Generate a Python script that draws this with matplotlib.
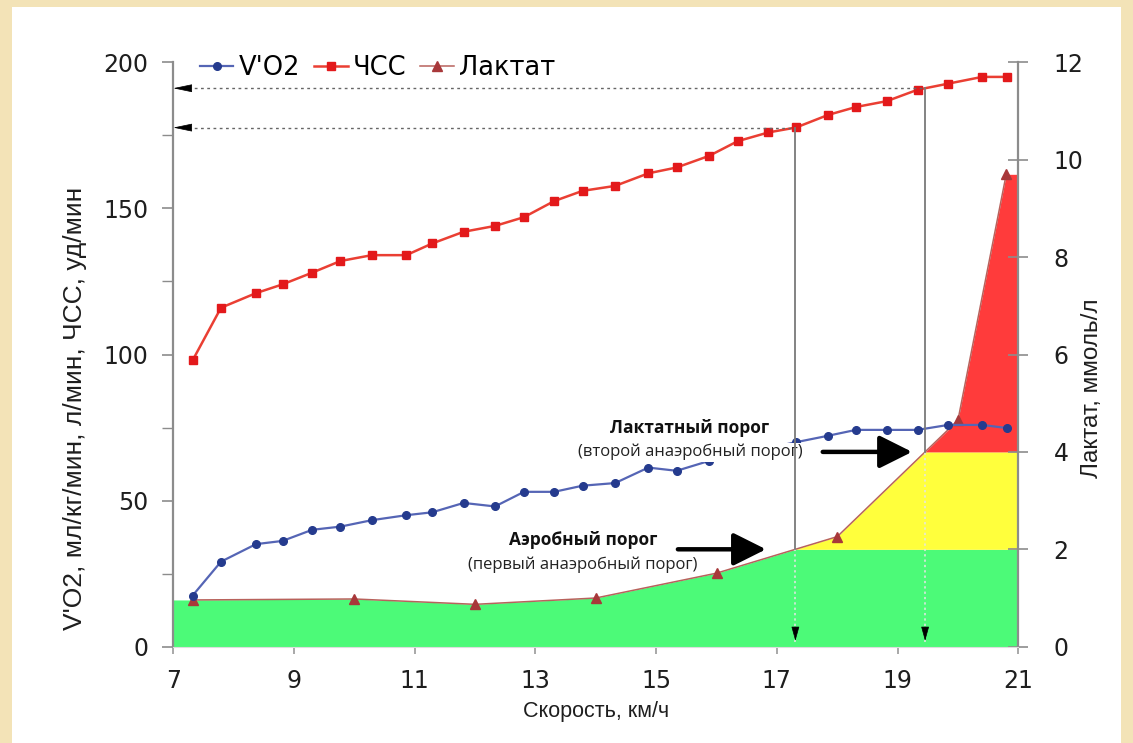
import numpy as np
import matplotlib
matplotlib.use("Agg")
import matplotlib.pyplot as plt
from matplotlib.patches import Rectangle
from matplotlib.ticker import MultipleLocator


# скорость, км/ч и ЧСС, уд/мин
hr_speed = [7.32, 7.79, 8.37, 8.81, 9.30, 9.77, 10.29, 10.86, 11.29, 11.81,
            12.33, 12.81, 13.31, 13.78, 14.32, 14.87, 15.34, 15.88, 16.35, 16.86,
            17.32, 17.85, 18.31, 18.82, 19.33, 19.84, 20.40, 20.82]
hr = [98, 116, 121, 124, 128, 132, 134, 134, 138, 142,
      144, 147, 152.5, 156, 157.7, 162, 164, 168, 173, 176,
      177.7, 182, 184.7, 186.7, 190.6, 192.7, 195, 195]

# V'O2, мл/кг/мин
vo2 = [17.5, 29.1, 35.1, 36.2, 40.0, 41.1, 43.3, 45.0, 46.0, 49.2,
       48.0, 53.0, 53.0, 55.1, 56.0, 61.3, 60.2, 63.6, 66.0, 68.0,
       70.0, 72.2, 74.2, 74.2, 74.2, 75.9, 75.9, 74.8]

# лактат, ммоль/л
lac_speed = [7.32, 10.0, 12.0, 14.0, 16.0, 18.0, 20.0, 20.8]
lactate = [0.96, 0.98, 0.87, 1.0, 1.51, 2.26, 4.65, 9.7]

LAC_AEROBIC = 2.0
LAC_ANAEROBIC = 4.0

# стрелки-указатели порогов (начало и конец по скорости)
arrow_aerobic = (15.36, 16.82)
arrow_anaerobic = (17.76, 19.24)

X_MIN, X_MAX = 7, 21
LEFT_MAX, RIGHT_MAX = 200, 12

W, H = 1133, 743


def crossing(xs, ys, level):
    # первая скорость, на которой лактат достигает уровня
    for i in range(1, len(xs)):
        if ys[i - 1] < level <= ys[i]:
            return xs[i - 1] + (level - ys[i - 1]) * (xs[i] - xs[i - 1]) / (ys[i] - ys[i - 1])
    return None


plt.rcParams['font.family'] = ['DejaVu Sans']
label_font = ['Liberation Sans', 'DejaVu Sans']
ann_font = ['Open Sans', 'DejaVu Sans']

fig = plt.figure(figsize=(W / 100, H / 100), dpi=100)
fig.patch.set_facecolor('#f3e3b7')
fig.add_artist(Rectangle((12 / W, 0), (1121 - 12) / W, (H - 7) / H,
                         transform=fig.transFigure, facecolor='white',
                         edgecolor='none', zorder=0))

ax = fig.add_axes([173.3 / W, 1 - 646.7 / H, (1018.3 - 173.3) / W, (646.7 - 62.3) / H])
ax2 = ax.twinx()
ax.set_zorder(ax2.get_zorder() + 1)
ax.patch.set_visible(False)

# зоны интенсивности под кривой лактата
xf = [X_MIN] + lac_speed + [X_MAX]
lf = [lactate[0]] + lactate + [lactate[-1]]
xx = np.linspace(X_MIN, X_MAX, 3000)
ll = np.interp(xx, xf, lf)
ax2.fill_between(xx, 0, np.minimum(ll, LAC_AEROBIC), color='#4cfa78', lw=0, zorder=1)
ax2.fill_between(xx, LAC_AEROBIC, np.clip(ll, LAC_AEROBIC, LAC_ANAEROBIC),
                 where=ll > LAC_AEROBIC, color='#ffff3c', lw=0, zorder=1)
ax2.fill_between(xx, LAC_ANAEROBIC, np.maximum(ll, LAC_ANAEROBIC),
                 where=ll > LAC_ANAEROBIC, color='#ff3b3b', lw=0, zorder=1)
lac_line, = ax2.plot(lac_speed, lactate, color='#b8625c', lw=1.1, marker='^',
                     ms=7, mfc='#a8383a', mec='#a8383a', zorder=3, label='Лактат')

vo2_line, = ax.plot(hr_speed, vo2, color='#5565b5', lw=1.6, marker='o', ms=5.5,
                    mfc='#253b8e', mec='#253b8e', zorder=4, label="V'O2")
hr_line, = ax.plot(hr_speed, hr, color='#ea3f33', lw=1.8, marker='s', ms=6,
                   mfc='#e3191b', mec='#e3191b', zorder=4, label='ЧСС')

# пороги: проекции на ось скорости и на ось ЧСС
for level, arr in ((LAC_AEROBIC, arrow_aerobic), (LAC_ANAEROBIC, arrow_anaerobic)):
    sp = crossing(lac_speed, lactate, level)
    hr_thr = np.interp(sp, hr_speed, hr)
    y_lac = level * LEFT_MAX / RIGHT_MAX
    ax.plot([sp, sp], [y_lac, hr_thr], color='#7a7a7a', lw=1.3, zorder=9)
    ax.plot([sp, sp], [1.5, y_lac], color='#e6e6e6', lw=1.1, ls=(0, (1.5, 2)), zorder=5)
    ax.plot([X_MIN + 0.25, sp], [hr_thr, hr_thr], color='#666666', lw=1.0,
            ls=(0, (2, 2.5)), zorder=5)
    ax.annotate('', xy=(X_MIN, hr_thr), xytext=(X_MIN + 0.28, hr_thr),
                arrowprops=dict(arrowstyle='-|>,head_length=1.2,head_width=0.25',
                                color='black', lw=0.5, shrinkA=0, shrinkB=0),
                zorder=6, annotation_clip=False)
    ax.annotate('', xy=(sp, 2), xytext=(sp, 6.5),
                arrowprops=dict(arrowstyle='-|>,head_length=0.9,head_width=0.25',
                                color='black', lw=0.5, shrinkA=0, shrinkB=0),
                zorder=6)
    ax.annotate('', xy=(arr[1], y_lac), xytext=(arr[0], y_lac),
                arrowprops=dict(arrowstyle='-|>,head_length=1.0,head_width=0.5',
                                mutation_scale=20, color='black', lw=3.2,
                                shrinkA=0, shrinkB=0),
                zorder=7)

ax.text(15.56, 74.9, 'Лактатный порог', family=ann_font, fontsize=12.5,
        fontweight='bold', ha='center', va='center', color='#111111', zorder=8)
ax.text(15.56, 66.6, '(второй анаэробный порог)', family=ann_font, fontsize=12,
        ha='center', va='center', color='#222222', zorder=8,
        bbox=dict(facecolor='white', edgecolor='none', pad=1))
ax.text(13.79, 36.5, 'Аэробный порог', family=ann_font, fontsize=12.5,
        fontweight='bold', ha='center', va='center', color='#111111', zorder=8)
ax.text(13.79, 28.0, '(первый анаэробный порог)', family=ann_font, fontsize=12,
        ha='center', va='center', color='#222222', zorder=8)

# оси
ax.set_xlim(X_MIN, X_MAX)
ax.set_ylim(0, LEFT_MAX)
ax2.set_ylim(0, RIGHT_MAX)
ax.set_xticks(range(X_MIN, X_MAX + 1, 2))
ax.yaxis.set_major_locator(MultipleLocator(50))
ax.yaxis.set_minor_locator(MultipleLocator(25))
ax2.yaxis.set_major_locator(MultipleLocator(2))

for a in (ax, ax2):
    for s in a.spines.values():
        s.set_visible(False)
ax.spines['left'].set_visible(True)
ax.spines['left'].set_color('#8c8c8c')
ax.spines['left'].set_linewidth(1.6)
ax2.spines['right'].set_visible(True)
ax2.spines['right'].set_color('#8c8c8c')
ax2.spines['right'].set_linewidth(1.6)
ax.spines['bottom'].set_visible(True)
ax.spines['bottom'].set_color('#dddddd')
ax.spines['bottom'].set_linewidth(0.8)

ax.tick_params(axis='x', length=5, width=1.2, color='#999999', pad=11,
               labelsize=17, labelcolor='#1e1e1e')
ax.tick_params(axis='y', which='major', length=8, width=1.2, color='#8c8c8c',
               pad=10, labelsize=17, labelcolor='#1e1e1e')
ax.tick_params(axis='y', which='minor', length=8, width=1.0, color='#8c8c8c')
ax2.tick_params(axis='y', direction='inout', length=15, width=1.2, color='#8c8c8c',
                pad=18, labelsize=17, labelcolor='#1e1e1e')

fig.text(596 / W, 1 - 712 / H, 'Скорость, км/ч', family=label_font, fontsize=15.5,
         ha='center', va='center', color='#1e1e1e')
fig.text(75 / W, 1 - 408 / H, "V'O2, мл/кг/мин, л/мин, ЧСС, уд/мин", family=label_font,
         fontsize=19, rotation=90, ha='center', va='center', color='#1e1e1e')
fig.text(1092 / W, 1 - 388 / H, 'Лактат, ммоль/л', family=label_font, fontsize=17.5,
         rotation=90, ha='center', va='center', color='#1e1e1e')

fig.legend(handles=[vo2_line, hr_line, lac_line], loc='center left',
           bbox_to_anchor=(200 / W, 1 - 68 / H), ncol=3, frameon=False,
           fontsize=18.5, handlelength=1.3, handletextpad=0.2, columnspacing=0.55,
           borderaxespad=0, borderpad=0)

fig.savefig('out.png', dpi=100, facecolor=fig.get_facecolor())
